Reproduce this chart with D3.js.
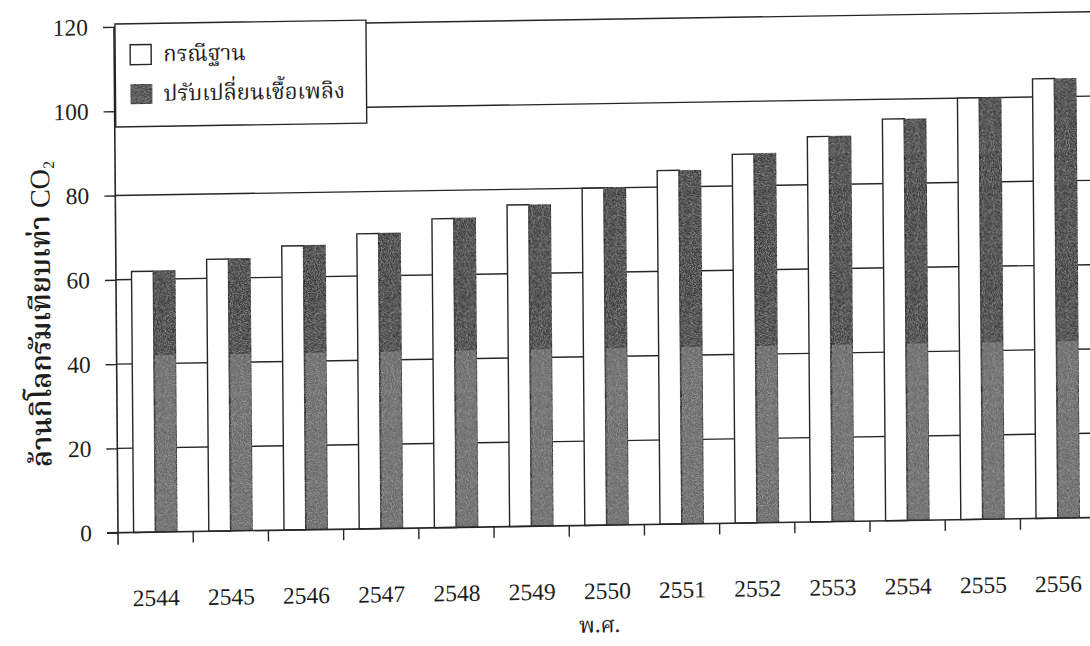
<!DOCTYPE html>
<html>
<head>
<meta charset="utf-8">
<script src="https://cdn.jsdelivr.net/npm/d3@7"></script>
<style>
  html, body { margin: 0; padding: 0; background: #fff; }
  svg { display: block; }
  .thai { font-family: "Noto Serif Thai", "Noto Sans Thai", "Loma", "Garuda", "Norasi", "Kinnari", "Tlwg Typo", "DejaVu Sans", sans-serif; }
  .num { font-family: "Liberation Serif", "DejaVu Serif", serif; }
</style>
</head>
<body>
<svg id="chart" width="1090" height="646"></svg>
<script>
// Years (Buddhist Era)
const years = ["2544", "2545", "2546", "2547", "2548", "2549", "2550",
               "2551", "2552", "2553", "2554", "2555", "2556"];
// Series names
const seriesNames = ["กรณีฐาน", "ปรับเปลี่ยนเชื้อเพลิง"];
// Emissions, million kg CO2 equivalent
const baseCase  = [61.9, 64.5, 67.4, 70.0, 73.3, 76.3, 80.0, 83.9, 87.5, 91.4, 95.3, 100.0, 104.3];
const fuelSwitch = [61.9, 64.5, 67.4, 70.0, 73.3, 76.3, 80.0, 83.9, 87.5, 91.4, 95.3, 100.0, 104.3];
// Value-axis ticks
const yTicks = [0, 20, 40, 60, 80, 100, 120];

const svg = d3.select("#chart");
const W = 1090, H = 646;
svg.append("rect").attr("width", W).attr("height", H).attr("fill", "#fff");

const plotL = 118, plotR = 1095.6, plotT = 26.9, plotB = 532.7;
const ink = "#262626";

const defs = svg.append("defs");
// Printed page is slightly skewed on the sheet
const skew = `translate(${plotL},${plotB}) matrix(1,-0.0155,0.008,1,0,0) translate(${-plotL},${-plotB})`;
const unskew = `translate(${plotL},${plotB}) matrix(1,0.0155,-0.008,1,0,0) translate(${-plotL},${-plotB})`;

// Dark fill: lighter on the lower part of the sheet
const grad = defs.append("linearGradient")
  .attr("id", "darkFill")
  .attr("gradientUnits", "userSpaceOnUse")
  .attr("gradientTransform", unskew)
  .attr("x1", 0).attr("y1", 0).attr("x2", 0).attr("y2", H);
grad.append("stop").attr("offset", 0).attr("stop-color", "#3c3c3c");
grad.append("stop").attr("offset", 357 / H).attr("stop-color", "#3c3c3c");
grad.append("stop").attr("offset", 357 / H).attr("stop-color", "#686868");
grad.append("stop").attr("offset", 1).attr("stop-color", "#686868");

// Halftone grain on the dark bars
const grain = defs.append("filter").attr("id", "grain")
  .attr("x", 0).attr("y", 0).attr("width", 1).attr("height", 1);
grain.append("feTurbulence").attr("type", "fractalNoise")
  .attr("baseFrequency", 1.1).attr("numOctaves", 1).attr("seed", 4).attr("result", "n");
grain.append("feColorMatrix").attr("in", "n").attr("type", "matrix")
  .attr("values", "0 0 0 0 1  0 0 0 0 1  0 0 0 0 1  0.7 0 0 0 -0.3").attr("result", "speck");
grain.append("feComposite").attr("in", "speck").attr("in2", "SourceGraphic")
  .attr("operator", "in").attr("result", "s2");
const merge = grain.append("feMerge");
merge.append("feMergeNode").attr("in", "SourceGraphic");
merge.append("feMergeNode").attr("in", "s2");

const g = svg.append("g").attr("transform", skew);

const x0 = d3.scaleBand().domain(years).range([plotL, plotR])
  .paddingInner(0.415).paddingOuter(0.2075);
const x1 = d3.scaleBand().domain(seriesNames).range([0, x0.bandwidth()]).padding(0);
const y = d3.scaleLinear().domain([0, 120]).range([plotB, plotT]);

// Gridlines
g.append("g").selectAll("line").data(yTicks.filter(t => t > 0)).join("line")
  .attr("x1", plotL).attr("x2", plotR)
  .attr("y1", d => y(d)).attr("y2", d => y(d))
  .attr("stroke", ink).attr("stroke-width", 1.4);
// Plot-area right edge
g.append("line").attr("x1", plotR).attr("x2", plotR).attr("y1", y(120)).attr("y2", y(0))
  .attr("stroke", ink).attr("stroke-width", 1.4);

// Bars
const data = years.map((yr, i) => ({ yr, vals: [baseCase[i], fuelSwitch[i]] }));
const groups = g.append("g").selectAll("g").data(data).join("g")
  .attr("transform", d => `translate(${x0(d.yr)},0)`);
groups.selectAll("rect").data(d => d.vals.map((v, k) => ({ v, k }))).join("rect")
  .attr("x", d => x1(seriesNames[d.k]))
  .attr("width", x1.bandwidth())
  .attr("y", d => y(d.v))
  .attr("height", d => y(0) - y(d.v))
  .attr("fill", d => d.k === 0 ? "#fff" : "url(#darkFill)")
  .attr("filter", d => d.k === 0 ? null : "url(#grain)")
  .attr("stroke", ink).attr("stroke-width", 1.4);

// Y axis
const yAxis = g.append("g").attr("transform", `translate(${plotL},0)`)
  .call(d3.axisLeft(y).tickValues(yTicks).tickSize(11).tickPadding(15));
yAxis.select(".domain").attr("stroke", ink).attr("stroke-width", 1.6)
  .attr("d", `M0,${y(120)}V${plotB + 12}`);
yAxis.selectAll(".tick line").attr("stroke", ink).attr("stroke-width", 1.4);
yAxis.selectAll("text").attr("class", "num").attr("font-size", 23.5).attr("fill", "#1e1e1e");

// X axis: boundary ticks
g.append("line").attr("x1", plotL - 11).attr("x2", plotR).attr("y1", plotB).attr("y2", plotB)
  .attr("stroke", ink).attr("stroke-width", 1.6);
const bounds = years.map(yr => x0(yr) - x0.step() * x0.paddingOuter());
g.append("g").selectAll("line").data(bounds.slice(1)).join("line")
  .attr("x1", d => d).attr("x2", d => d)
  .attr("y1", plotB).attr("y2", plotB + 11)
  .attr("stroke", ink).attr("stroke-width", 1.4);

// X labels
const xAxis = g.append("g").attr("transform", `translate(0,${plotB})`)
  .call(d3.axisBottom(x0).tickSize(0).tickPadding(57));
xAxis.select(".domain").remove();
xAxis.selectAll("text").attr("class", "num").attr("font-size", 23.5).attr("fill", "#1e1e1e");

// Axis titles
g.append("text").attr("class", "thai")
  .attr("x", (plotL + plotR) / 2 - 8).attr("y", 640)
  .attr("text-anchor", "middle").attr("font-size", 22).attr("fill", "#1e1e1e")
  .text("พ.ศ.");

const yt = g.append("text").attr("class", "thai")
  .attr("transform", "translate(52,313) rotate(-90)")
  .attr("text-anchor", "middle").attr("font-size", 28).attr("font-weight", 600)
  .attr("fill", "#1e1e1e");
yt.append("tspan").text("ล้านกิโลกรัมเทียบเท่า ");
yt.append("tspan").attr("class", "num").attr("font-weight", 400).text("CO");
yt.append("tspan").attr("class", "num").attr("font-weight", 400)
  .attr("font-size", 16).attr("dy", 5).text("2");

// Legend
const lg = g.append("g");
lg.append("rect").attr("x", 119).attr("y", 24).attr("width", 251).attr("height", 103)
  .attr("fill", "#fff").attr("stroke", ink).attr("stroke-width", 1.4);
const items = lg.selectAll("g").data(seriesNames).join("g")
  .attr("transform", (d, i) => `translate(134,${45 + i * 39.5})`);
items.append("rect").attr("width", 21).attr("height", 20)
  .attr("fill", (d, i) => i === 0 ? "#fff" : "#474747")
  .attr("filter", (d, i) => i === 0 ? null : "url(#grain)")
  .attr("stroke", ink).attr("stroke-width", 1.4);
items.append("text").attr("class", "thai")
  .attr("x", 33).attr("y", 17).attr("font-size", 22).attr("fill", "#1e1e1e")
  .text(d => d);
</script>
</body>
</html>
